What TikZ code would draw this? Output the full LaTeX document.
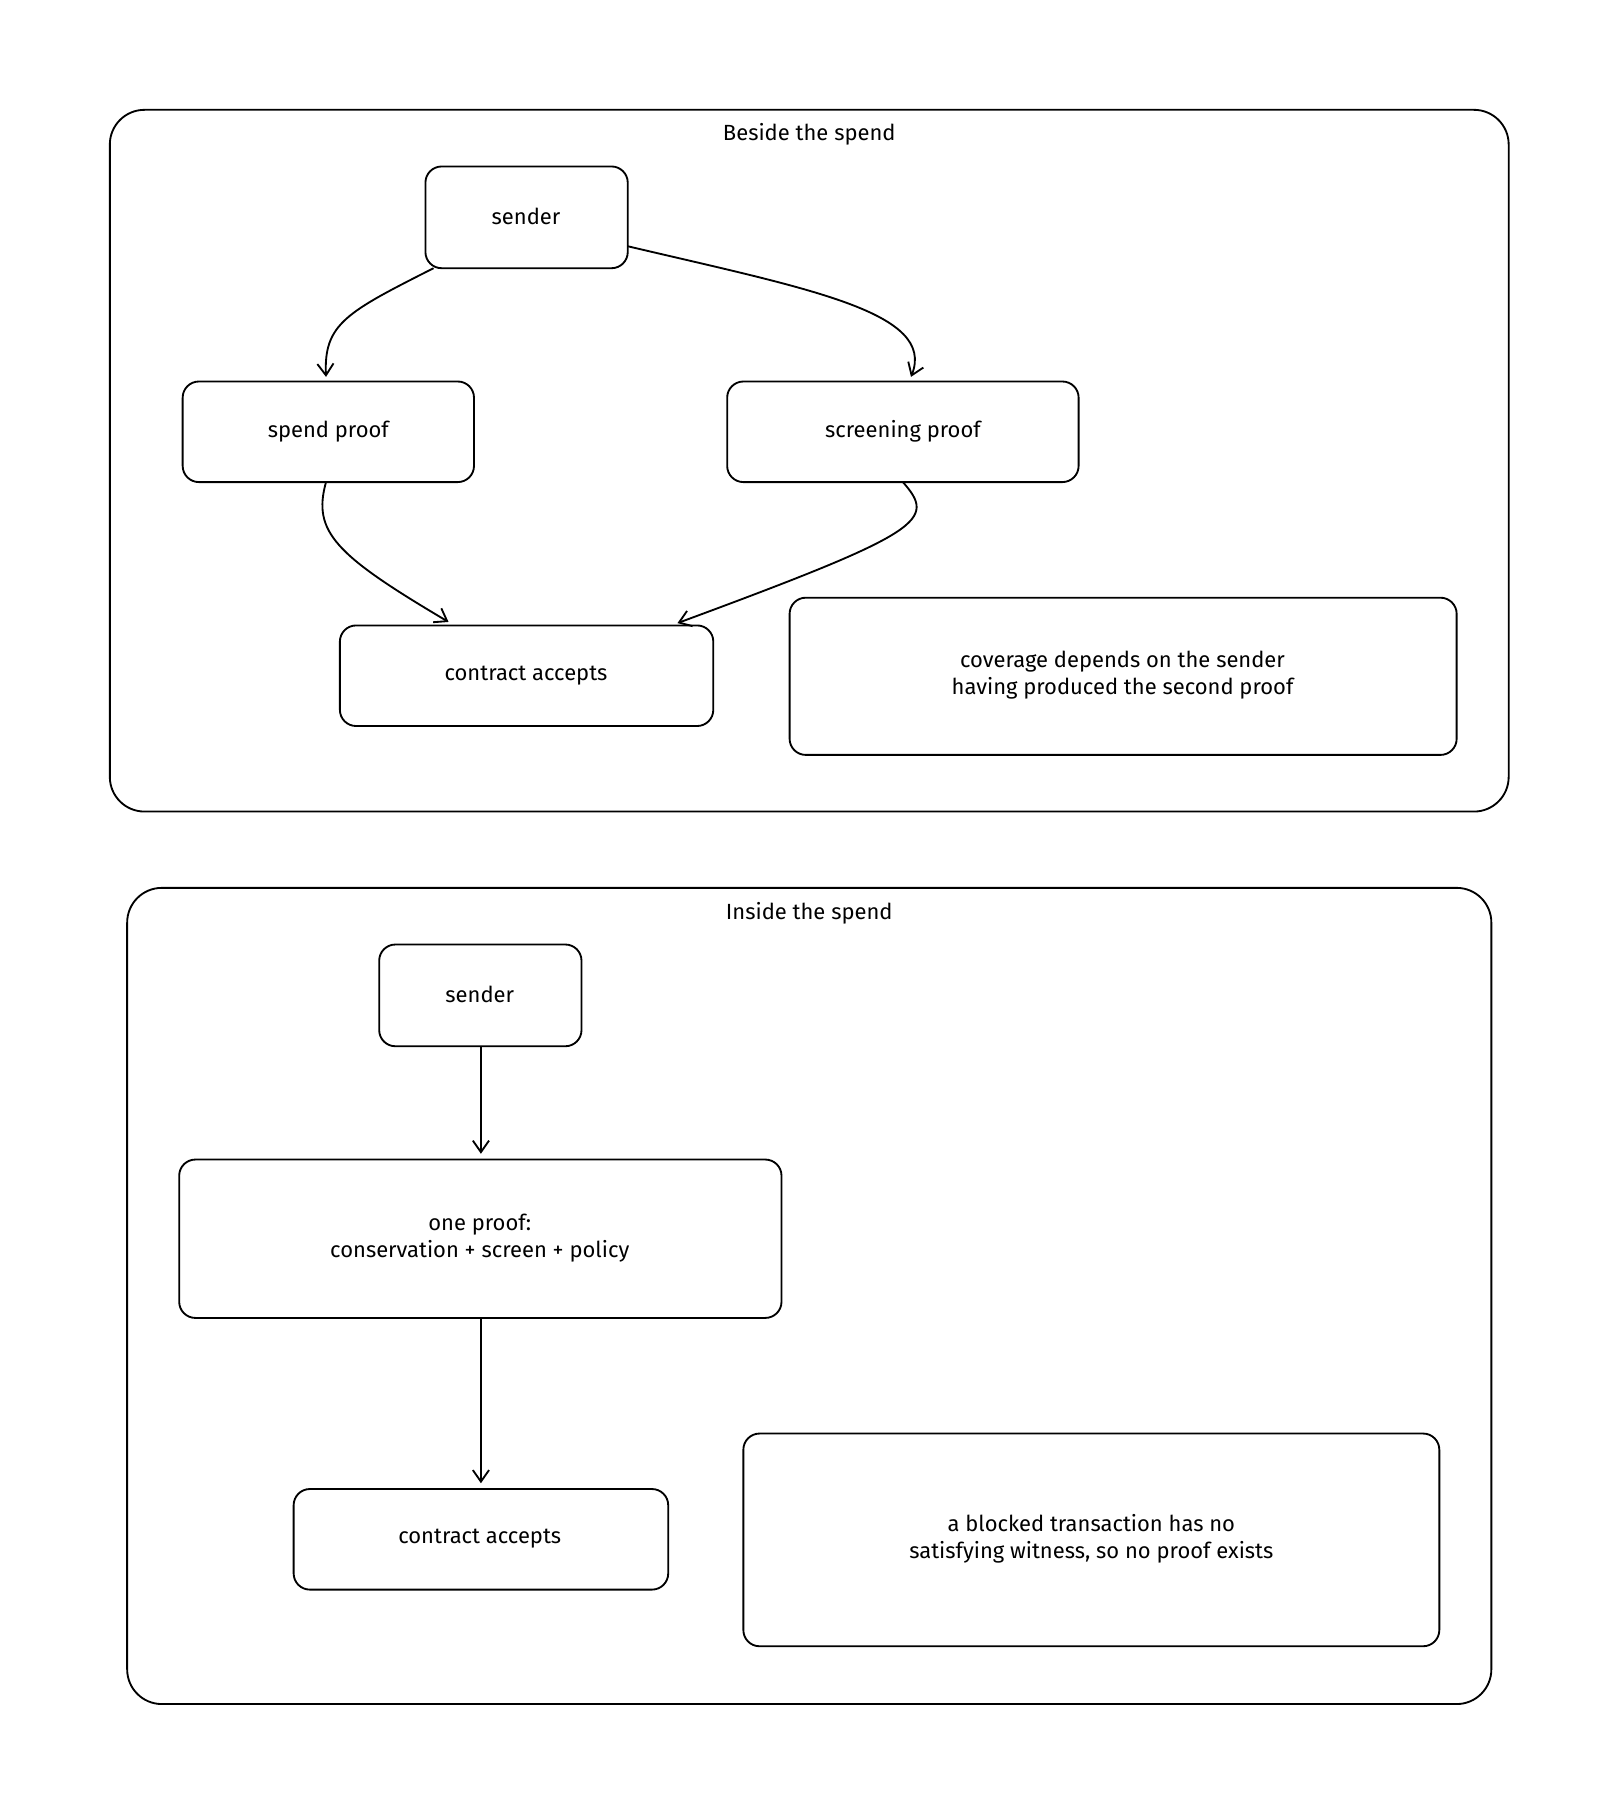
\documentclass[tikz,border=0pt]{standalone}
\usetikzlibrary{arrows.meta}
\usepackage{fontspec}
\setmainfont{Fira Sans}
\begin{document}
\begin{tikzpicture}[x=1pt,y=-1pt,
  box/.style={draw,line width=1.6pt,rounded corners=14pt},
  frame/.style={draw,line width=1.6pt,rounded corners=30pt},
  lbl/.style={font=\fontsize{19}{24}\selectfont,align=center},
  arr/.style={->,line width=1.6pt,>={Straight Barb[length=10pt,width=14pt]}}]
\useasboundingbox (0,0) rectangle (1390,1557);
% top panel
\draw[frame] (95,95) rectangle (1305,702);
\node[lbl] (t1) at (700,116) {Beside the spend};
\draw[box] (368,144) rectangle (543,232); \node[lbl] (s1) at (455,187) {sender};
\draw[box] (158,330) rectangle (410,417); \node[lbl] (sp) at (284,373) {spend proof};
\draw[box] (629,330) rectangle (933,417); \node[lbl] (sc) at (781,373) {screening proof};
\draw[box] (294,541) rectangle (617,628); \node[lbl] (c1) at (455,584) {contract accepts};
\draw[box] (683,517) rectangle (1260,653); \node[lbl] (n1) at (971,584) {coverage depends on the sender\\having produced the second proof};
\coordinate (a1) at (375,232); \coordinate (a2) at (282,326);
\coordinate (b1) at (543,213); \coordinate (b2) at (788,326);
\coordinate (c1s) at (282,417); \coordinate (c1e) at (388,538);
\coordinate (d1s) at (781,417); \coordinate (d1e) at (586,539);
\draw[arr] (a1) .. controls (300,270) and (280,280) .. (a2);
\draw[arr] (b1) .. controls (700,250) and (810,270) .. (b2);
\draw[arr] (c1s) .. controls (270,460) and (290,480) .. (c1e);
\draw[arr] (d1s) .. controls (810,450) and (800,460) .. (d1e);
% bottom panel
\draw[frame] (110,768) rectangle (1290,1474);
\node[lbl] (t2) at (700,790) {Inside the spend};
\draw[box] (328,817) rectangle (503,905); \node[lbl] (s2) at (415,860) {sender};
\draw[box] (155,1003) rectangle (676,1140); \node[lbl] (op) at (415,1071) {one proof:\\conservation + screen + policy};
\draw[box] (254,1288) rectangle (578,1375); \node[lbl] (c2) at (415,1331) {contract accepts};
\draw[box] (643,1240) rectangle (1245,1424); \node[lbl] (n2) at (944,1331) {a blocked transaction has no\\satisfying witness, so no proof exists};
\coordinate (e1) at (416,905); \coordinate (e2) at (416,998);
\coordinate (f1) at (416,1140); \coordinate (f2) at (416,1283);
\draw[arr] (e1) -- (e2);
\draw[arr] (f1) -- (f2);
\end{tikzpicture}
\end{document}
